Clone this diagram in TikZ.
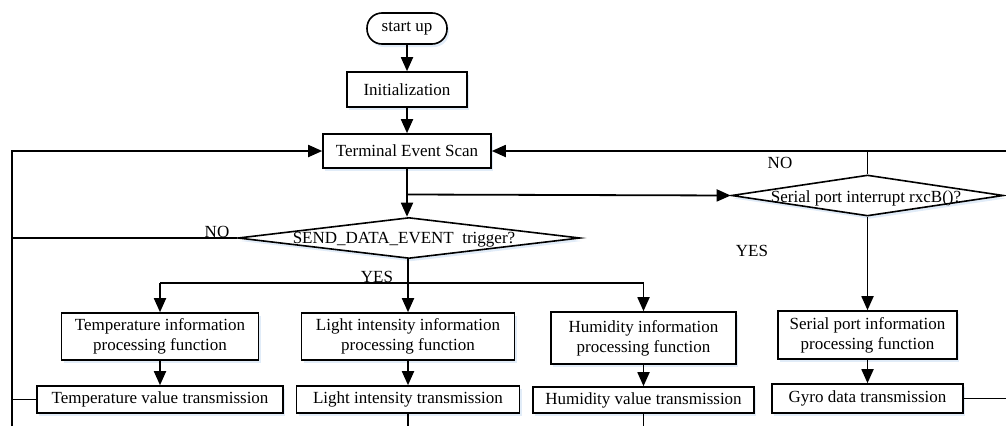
\documentclass[tikz,border=0pt]{standalone}
\usepackage{fontspec}
\setmainfont{Liberation Serif}
\usetikzlibrary{arrows.meta,shapes.geometric,shadows}

\tikzset{
  x=1pt, y=-1pt,
  every node/.style={font=\fontsize{17}{20}\selectfont},
  softshadow/.style={drop shadow={shadow xshift=2pt, shadow yshift=-3pt,
      fill={rgb,255:red,170;green,200;blue,235}, opacity=0.35}},
  procbox/.style={draw, line width=1.6pt, fill=white, softshadow,
      inner sep=0pt, align=center},
  termbox/.style={procbox, rounded corners=15pt},
  decbox/.style={draw, diamond, line width=1.6pt, fill=white, softshadow,
      inner sep=0pt},
  flow/.style={line width=1.8pt, -{Triangle[length=14pt,width=12pt]}},
  link/.style={line width=1.8pt},
  tag/.style={inner sep=0pt}
}

\begin{document}
\begin{tikzpicture}
\useasboundingbox (0,0) rectangle (1006,426);

% main column
\node[termbox, minimum width=80pt, minimum height=31pt] (start) at (407,28.5) {start up};
\node[procbox, minimum width=120pt, minimum height=35pt] (init) at (407,89.5) {Initialization};
\node[procbox, minimum width=168pt, minimum height=34pt] (scan) at (407,151) {Terminal Event Scan};

% decisions
\node[decbox, minimum width=342pt, minimum height=41pt] (send) at (409,238) {};
\node[tag] (sendtxt) at (404,240) {SEND\_DATA\_EVENT\ \ trigger?};
\node[decbox, minimum width=272pt, minimum height=41pt] (serial) at (867.5,195.5) {};
\node[tag] (serialtxt) at (866,198) {Serial port interrupt rxcB()?};

% processing boxes
\node[procbox, minimum width=197pt, minimum height=47pt] (temp) at (160,336.5) {Temperature information\\processing function};
\node[procbox, minimum width=213pt, minimum height=47pt] (light) at (408,336.5) {Light intensity information\\processing function};
\node[procbox, minimum width=185pt, minimum height=52pt] (hum) at (643.5,338) {Humidity information\\processing function};
\node[procbox, minimum width=179pt, minimum height=48pt] (sport) at (867.5,335) {Serial port information\\processing function};

% transmission boxes
\node[procbox, minimum width=246pt, minimum height=27pt] (temptx) at (160,399.5) {Temperature value transmission};
\node[procbox, minimum width=223pt, minimum height=27pt] (lighttx) at (408,399.5) {Light intensity transmission};
\node[procbox, minimum width=221pt, minimum height=26pt] (humtx) at (643.5,400) {Humidity value transmission};
\node[procbox, minimum width=191pt, minimum height=29pt] (gyrotx) at (867.5,398.5) {Gyro data transmission};

% loop coordinates
\coordinate (lefttop) at (12,151);
\coordinate (leftbot) at (12,426);
\coordinate (righttop) at (1006,151);
\coordinate (rightgyro) at (1006,398.5);
\coordinate (fork) at (407,194.5);
\coordinate (yesbar) at (408,283);
\coordinate (lightbot) at (408,426);
\coordinate (humbot) at (643.5,426);

% labels
\node[tag] (no1) at (217,232) {NO};
\node[tag] (no2) at (780,163) {NO};
\node[tag] (yes1) at (377,277) {YES};
\node[tag] (yes2) at (752,251) {YES};

% connectors of the main column
\draw[flow] (start) -- (init);
\draw[flow] (init) -- (scan);
\draw[flow] (scan.south) -- (scan.south |- send.north);
\draw[flow] (fork) -- (serial.west);

% left return path
\draw[flow] (leftbot) -- (lefttop) -- (scan.west);
\draw[link] (send.west) -- (send.west -| lefttop);
\draw[link] (temptx.west) -- (temptx.west -| lefttop);

% YES branch of the send decision
\draw[link] (send.south -| yesbar) -- (yesbar);
\draw[link] (yesbar -| temp.north) -- (yesbar -| hum.north);
\draw[flow] (yesbar -| temp.north) -- (temp.north);
\draw[flow] (yesbar) -- (light.north);
\draw[flow] (yesbar -| hum.north) -- (hum.north);
\draw[flow] (temp) -- (temptx);
\draw[flow] (light) -- (lighttx);
\draw[flow] (hum) -- (humtx);
\draw[link] (lighttx.south) -- (lightbot);
\draw[link] (humtx.south) -- (humbot);

% serial branch and right return path
\draw[link] (serial.north) -- (serial.north |- righttop);
\draw[flow] (righttop) -- (scan.east);
\draw[flow] (serial.south) -- (sport.north);
\draw[flow] (sport) -- (gyrotx);
\draw[link] (gyrotx.east) -- (rightgyro);
\end{tikzpicture}
\end{document}
